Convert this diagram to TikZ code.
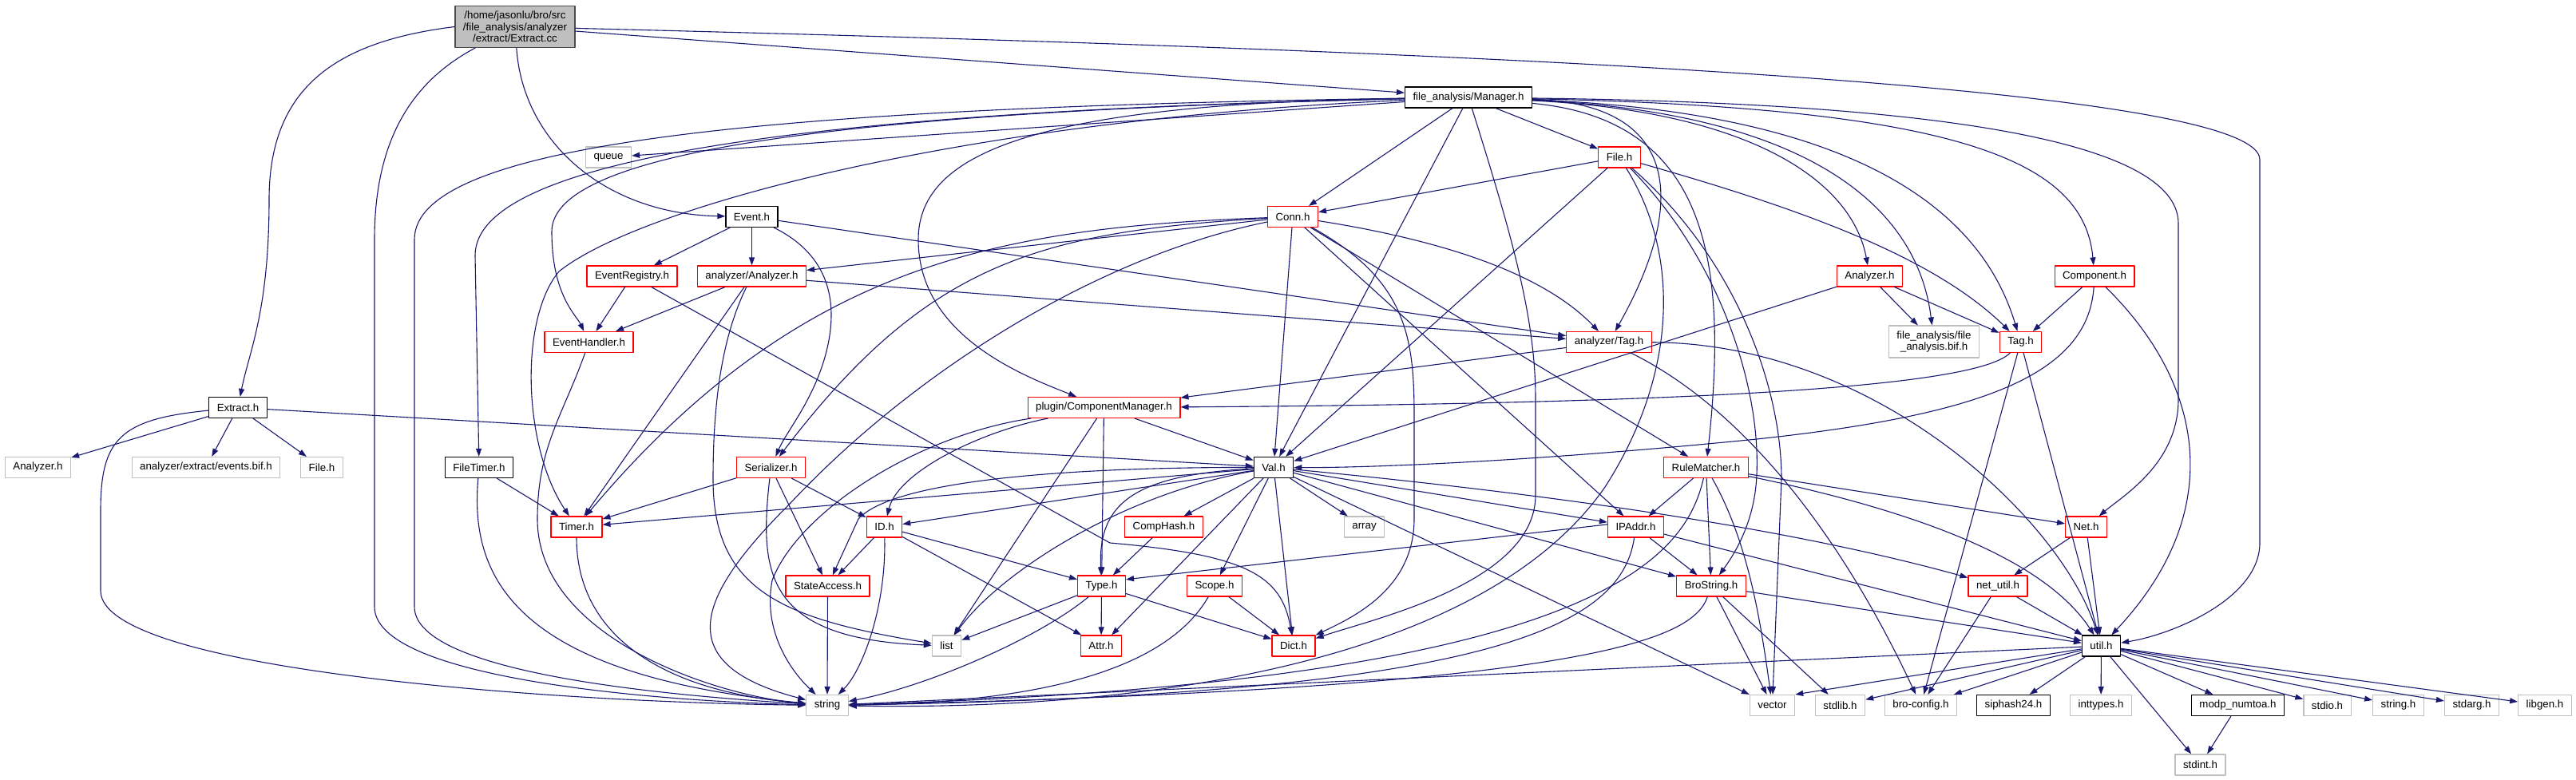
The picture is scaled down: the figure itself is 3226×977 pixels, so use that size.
\documentclass[tikz,border=0pt]{standalone}
\usepackage{fontspec}
\setmainfont{Liberation Sans}
\usetikzlibrary{arrows.meta}
\definecolor{edgeblue}{RGB}{25,25,112}
\definecolor{boxred}{RGB}{255,0,0}
\definecolor{boxgray}{RGB}{191,191,191}

\begin{document}
\begin{tikzpicture}[x=1pt,y=-1pt,>={Triangle[length=10pt,width=7pt]},
    line cap=round,line join=round,
    box@/.style={draw,rectangle,fill=white,line width=1.2pt,inner xsep=10pt,
      inner ysep=0pt,minimum height=26pt,font=\fontsize{13.3}{14.5}\selectfont},
    doc@/.style={box@,draw=black},
    trunc@/.style={box@,draw=boxred},
    ext@/.style={box@,draw=boxgray},
    edge@/.style={->,draw=edgeblue,line width=1.1pt}]
    \useasboundingbox (0,0) rectangle (3226,977);

    % The file itself and the headers it pulls in.
    \node[doc@,fill=boxgray,draw=black!70,align=center,inner ysep=6.5pt] (root)
      at (645,33.5) {/home/jasonlu/bro/src\\/file\_analysis/analyzer\\/extract/Extract.cc};
    \node[doc@] (mgr) at (1839,122) {file\_analysis/Manager.h};
    \node[ext@] (queue) at (762,197) {queue};
    \node[trunc@] (fileR) at (2028,197) {File.h};
    \node[doc@] (event) at (941.5,271.5) {Event.h};
    \node[trunc@] (conn) at (1619,271.5) {Conn.h};
    \node[trunc@] (evreg) at (791.5,346) {EventRegistry.h};
    \node[trunc@] (aanalyzer) at (941.5,346) {analyzer/Analyzer.h};
    \node[trunc@] (fanalyzer) at (2341.5,346) {Analyzer.h};
    \node[trunc@] (component) at (2623,346) {Component.h};
    \node[trunc@] (evhandler) at (737.5,428.5) {EventHandler.h};
    \node[trunc@] (atag) at (2015,428.5) {analyzer/Tag.h};
    \node[ext@,align=center,inner ysep=6.5pt] (bif) at (2422,428)
      {file\_analysis/file\\\_analysis.bif.h};
    \node[trunc@] (tag) at (2530.5,428.5) {Tag.h};
    \node[doc@] (extracth) at (298,510.5) {Extract.h};
    \node[trunc@] (compmgr) at (1382.5,510.5) {plugin/ComponentManager.h};
    \node[ext@] (analyzerG) at (47.5,585.5) {Analyzer.h};
    \node[ext@] (events) at (258,585.5) {analyzer/extract/events.bif.h};
    \node[ext@] (fileG) at (403,585.5) {File.h};
    \node[doc@] (filetimer) at (600,585.5) {FileTimer.h};
    \node[trunc@] (serializer) at (965.5,585.5) {Serializer.h};
    \node[doc@] (val) at (1595,585.5) {Val.h};
    \node[trunc@] (rulematcher) at (2136.5,585.5) {RuleMatcher.h};
    \node[trunc@] (timer) at (722,660) {Timer.h};
    \node[trunc@] (idh) at (1107.5,660) {ID.h};
    \node[trunc@] (comphash) at (1457.5,660) {CompHash.h};
    \node[ext@] (array) at (1708.5,660) {array};
    \node[trunc@] (ipaddr) at (2048.5,660) {IPAddr.h};
    \node[trunc@] (net) at (2612.5,660) {Net.h};
    \node[trunc@] (stateaccess) at (1036.5,734) {StateAccess.h};
    \node[trunc@] (type) at (1379.5,734) {Type.h};
    \node[trunc@] (scope) at (1521,734) {Scope.h};
    \node[trunc@] (brostring) at (2143,734) {BroString.h};
    \node[trunc@] (netutil) at (2502,734) {net\_util.h};
    \node[ext@] (list) at (1185.5,809) {list};
    \node[trunc@] (attr) at (1379,809) {Attr.h};
    \node[trunc@] (dict) at (1620,809) {Dict.h};
    \node[doc@] (util) at (2631.5,809) {util.h};
    \node[ext@] (string) at (1036,883.5) {string};
    \node[ext@] (vector) at (2219.5,883.5) {vector};
    \node[ext@] (stdlib) at (2304.5,883.5) {stdlib.h};
    \node[ext@] (broconfig) at (2405.5,883.5) {bro-config.h};
    \node[doc@] (siphash) at (2521.5,883.5) {siphash24.h};
    \node[ext@] (inttypes) at (2631,883.5) {inttypes.h};
    \node[doc@] (modp) at (2802.5,883.5) {modp\_numtoa.h};
    \node[ext@] (stdio) at (2914.5,883.5) {stdio.h};
    \node[ext@] (stringh) at (3003.5,883.5) {string.h};
    \node[ext@] (stdarg) at (3095.5,883.5) {stdarg.h};
    \node[ext@] (libgen) at (3187,883.5) {libgen.h};
    \node[ext@] (stdint) at (2755.5,958) {stdint.h};

    % Extract.cc
    \draw[edge@] (root.west) .. controls (420,52) and (337,110) .. (337,250)
      .. controls (337,390) and (312,440) .. (extracth);
    \draw[edge@] (root) .. controls (520,100) and (469,170) .. (469,300) -- (469,760)
      .. controls (469,850) and (820,878) .. (string);
    \draw[edge@] (root) .. controls (655,180) and (760,268) .. (event);
    \draw[edge@] (root) -- (mgr);
    \draw[edge@] (root) .. controls (1700,60) and (2830,100) .. (2830,200) -- (2830,680)
      .. controls (2830,750) and (2720,795) .. (util);

    % file_analysis/Manager.h
    \draw[edge@] (mgr) -- (queue);
    \draw[edge@] (mgr) .. controls (950,135) and (519,180) .. (519,300) -- (519,760)
      .. controls (519,845) and (850,872) .. (string);
    \draw[edge@] (mgr) .. controls (1000,140) and (595,200) .. (595,320) -- (filetimer);
    \draw[edge@] (mgr) .. controls (1050,140) and (691,190) .. (691,290)
      .. controls (691,370) and (722,395) .. (evhandler);
    \draw[edge@] (mgr) .. controls (1200,150) and (800,260) .. (700,340)
      .. controls (650,400) and (655,560) .. (timer);
    \draw[edge@] (mgr) .. controls (1300,130) and (1150,190) .. (1150,300)
      .. controls (1150,420) and (1280,470) .. (compmgr);
    \draw[edge@] (mgr) -- (conn);
    \draw[edge@] (mgr) -- (val);
    \draw[edge@] (mgr) .. controls (1895,300) and (1923,400) .. (1923,500) -- (1923,620)
      .. controls (1923,730) and (1720,775) .. (dict);
    \draw[edge@] (mgr) -- (fileR);
    \draw[edge@] (mgr) .. controls (2110,130) and (2110,260) .. (atag);
    \draw[edge@] (mgr) .. controls (2140,150) and (2165,330) .. (rulematcher);
    \draw[edge@] (mgr) .. controls (2200,140) and (2320,230) .. (fanalyzer);
    \draw[edge@] (mgr) .. controls (2250,140) and (2400,250) .. (bif);
    \draw[edge@] (mgr) .. controls (2320,140) and (2480,260) .. (tag);
    \draw[edge@] (mgr) .. controls (2450,135) and (2610,200) .. (component);
    \draw[edge@] (mgr) .. controls (2500,130) and (2728,190) .. (2728,280) -- (2728,500)
      .. controls (2728,580) and (2660,620) .. (net);

    % Event.h, EventRegistry.h, analyzer/Analyzer.h, EventHandler.h
    \draw[edge@] (event) -- (evreg);
    \draw[edge@] (event) -- (aanalyzer);
    \draw[edge@] (event) .. controls (1040,320) and (1050,380) .. (1035,440)
      .. controls (1020,500) and (985,540) .. (serializer);
    \draw[edge@] (event) -- (atag);
    \draw[edge@] (evreg) -- (evhandler);
    \draw[edge@] (evreg) -- (1390,680) .. controls (1560,695) and (1605,720) .. (dict);
    \draw[edge@] (aanalyzer) -- (evhandler);
    \draw[edge@] (aanalyzer) -- (timer);
    \draw[edge@] (aanalyzer) .. controls (905,420) and (893,500) .. (893,600)
      .. controls (893,740) and (980,775) .. (list);
    \draw[edge@] (aanalyzer) -- (atag);
    \draw[edge@] (evhandler) .. controls (705,520) and (673,560) .. (673,650)
      .. controls (673,800) and (900,872) .. (string);

    % Conn.h
    \draw[edge@] (conn) -- (aanalyzer);
    \draw[edge@] (conn) .. controls (1250,285) and (1000,330) .. (timer);
    \draw[edge@] (conn) .. controls (1300,290) and (1160,330) .. (serializer);
    \draw[edge@] (conn) .. controls (1380,320) and (1150,460) .. (990,630)
      .. controls (880,740) and (830,830) .. (string);
    \draw[edge@] (conn) -- (val);
    \draw[edge@] (conn) .. controls (1760,350) and (1771,420) .. (1771,520) -- (1771,650)
      .. controls (1771,740) and (1690,775) .. (dict);
    \draw[edge@] (conn) -- (ipaddr);
    \draw[edge@] (conn) -- (rulematcher);
    \draw[edge@] (conn) .. controls (1800,300) and (1930,340) .. (atag);

    % File.h, Analyzer.h, Component.h
    \draw[edge@] (fileR) -- (conn);
    \draw[edge@] (fileR) -- (val);
    \draw[edge@] (fileR) .. controls (2105,320) and (2100,470) .. (2010,610)
      .. controls (1850,840) and (1400,890) .. (string);
    \draw[edge@] (fileR) .. controls (2150,320) and (2205,480) .. (2200,594)
      .. controls (2198,650) and (2175,690) .. (brostring);
    \draw[edge@] (fileR) .. controls (2170,320) and (2231,480) .. (2231,600) -- (vector);
    \draw[edge@] (fileR) .. controls (2250,260) and (2420,320) .. (tag);
    \draw[edge@] (fanalyzer) -- (val);
    \draw[edge@] (fanalyzer) -- (bif);
    \draw[edge@] (fanalyzer) -- (tag);
    \draw[edge@] (component) -- (tag);
    \draw[edge@] (component) .. controls (2615,470) and (2480,520) .. (2200,550)
      .. controls (1900,580) and (1700,586) .. (val);
    \draw[edge@] (component) .. controls (2760,480) and (2790,640) .. (util);

    % the two Tag headers
    \draw[edge@] (atag) -- (compmgr);
    \draw[edge@] (atag) .. controls (2200,520) and (2320,700) .. (broconfig);
    \draw[edge@] (atag) .. controls (2350,430) and (2580,650) .. (util);
    \draw[edge@] (tag) .. controls (2480,480) and (2200,505) .. (compmgr);
    \draw[edge@] (tag) -- (broconfig);
    \draw[edge@] (tag) -- (util);

    % plugin/ComponentManager.h, Extract.h, FileTimer.h, Timer.h, Serializer.h
    \draw[edge@] (compmgr) .. controls (1230,540) and (1125,590) .. (idh);
    \draw[edge@] (compmgr) .. controls (1150,545) and (1000,640) .. (967,727)
      .. controls (955,790) and (990,840) .. (string);
    \draw[edge@] (compmgr) -- (list);
    \draw[edge@] (compmgr) -- (type);
    \draw[edge@] (compmgr) -- (val);
    \draw[edge@] (extracth) -- (analyzerG);
    \draw[edge@] (extracth) -- (events);
    \draw[edge@] (extracth) -- (fileG);
    \draw[edge@] (extracth) -- (val);
    \draw[edge@] (extracth) .. controls (150,525) and (126,550) .. (126,640) -- (126,740)
      .. controls (126,840) and (700,880) .. (string);
    \draw[edge@] (filetimer) -- (timer);
    \draw[edge@] (filetimer) .. controls (588,720) and (640,845) .. (string);
    \draw[edge@] (timer) .. controls (722,790) and (820,865) .. (string);
    \draw[edge@] (serializer) -- (timer);
    \draw[edge@] (serializer) -- (idh);
    \draw[edge@] (serializer) -- (stateaccess);
    \draw[edge@] (serializer) .. controls (950,720) and (960,800) .. (list);

    % Val.h
    \draw[edge@] (val) -- (timer);
    \draw[edge@] (val) -- (idh);
    \draw[edge@] (val) .. controls (1350,585) and (1120,600) .. (1075,650) -- (stateaccess);
    \draw[edge@] (val) .. controls (1420,595) and (1375,630) .. (type);
    \draw[edge@] (val) .. controls (1400,620) and (1250,720) .. (list);
    \draw[edge@] (val) -- (comphash);
    \draw[edge@] (val) -- (array);
    \draw[edge@] (val) -- (scope);
    \draw[edge@] (val) -- (attr);
    \draw[edge@] (val) -- (dict);
    \draw[edge@] (val) -- (ipaddr);
    \draw[edge@] (val) -- (brostring);
    \draw[edge@] (val) .. controls (1850,610) and (2200,650) .. (netutil);
    \draw[edge@] (val) -- (vector);

    % the lower headers
    \draw[edge@] (idh) -- (stateaccess);
    \draw[edge@] (idh) -- (type);
    \draw[edge@] (idh) -- (attr);
    \draw[edge@] (idh) .. controls (1110,760) and (1080,840) .. (string);
    \draw[edge@] (comphash) -- (type);
    \draw[edge@] (stateaccess) -- (string);
    \draw[edge@] (type) -- (list);
    \draw[edge@] (type) -- (attr);
    \draw[edge@] (type) -- (dict);
    \draw[edge@] (type) .. controls (1300,800) and (1160,860) .. (string);
    \draw[edge@] (scope) -- (dict);
    \draw[edge@] (scope) .. controls (1460,840) and (1300,880) .. (string);
    \draw[edge@] (ipaddr.175) -- (type.15);
    \draw[edge@] (ipaddr) -- (brostring);
    \draw[edge@] (ipaddr) .. controls (2030,790) and (1850,870) .. (string);
    \draw[edge@] (ipaddr) -- (util);
    \draw[edge@] (brostring) -- (vector);
    \draw[edge@] (brostring) -- (stdlib);
    \draw[edge@] (brostring) -- (util);
    \draw[edge@] (brostring) .. controls (2120,800) and (2000,862) .. (string);
    \draw[edge@] (rulematcher) -- (ipaddr);
    \draw[edge@] (rulematcher) -- (brostring);
    \draw[edge@] (rulematcher) .. controls (2190,680) and (2205,780) .. (vector);
    \draw[edge@] (rulematcher) .. controls (2110,700) and (2000,855) .. (string);
    \draw[edge@] (rulematcher) -- (net);
    \draw[edge@] (rulematcher) .. controls (2400,640) and (2560,700) .. (util);
    \draw[edge@] (net) -- (netutil);
    \draw[edge@] (net) -- (util);
    \draw[edge@] (netutil) -- (broconfig);
    \draw[edge@] (netutil) -- (util);

    % util.h
    \draw[edge@] (util) -- (vector.north east);
    \foreach \n in {stdlib,broconfig,siphash,inttypes,stdint,modp,stdio,stringh,stdarg,libgen}
      \draw[edge@] (util) -- (\n);
    \draw[edge@] (util) -- (string);
    \draw[edge@] (modp) -- (stdint);
  \end{tikzpicture}
\end{document}
